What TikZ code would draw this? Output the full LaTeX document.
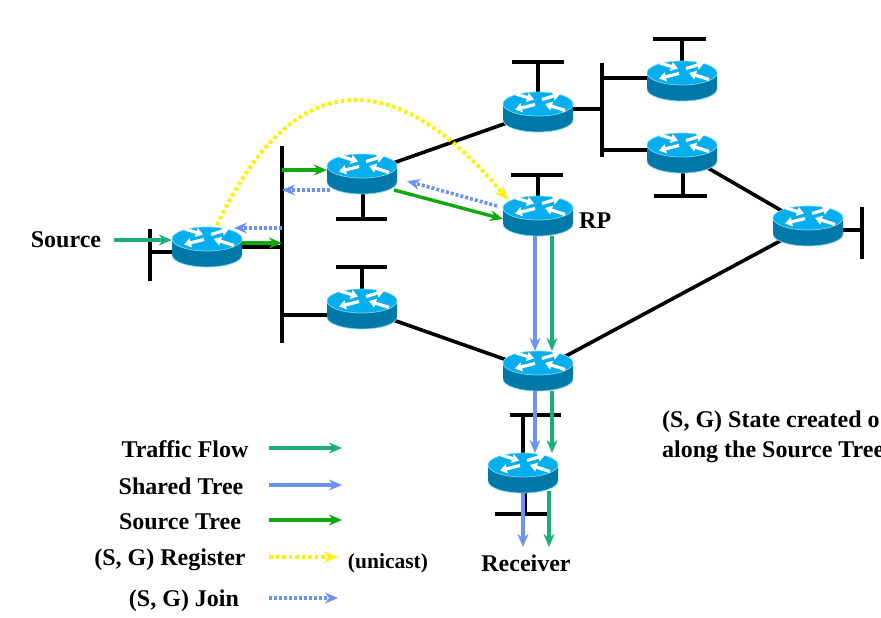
\documentclass[tikz,border=0pt]{standalone}
\usepackage{fontspec}
\setmainfont{Liberation Serif}
\usepackage{xcolor}
\usetikzlibrary{shapes.geometric, arrows.meta, positioning, calc, backgrounds}
\definecolor{routertop}{HTML}{05AEEC}
\definecolor{routerbody}{HTML}{0079A9}
\definecolor{routeredge}{HTML}{7AD4F4}
\definecolor{trafficgreen}{HTML}{1CAE78}
\definecolor{sharedblue}{HTML}{6E92F2}
\definecolor{sourcegreen}{HTML}{0FA80F}
\definecolor{registeryellow}{HTML}{FFF200}
\tikzset{
  routerbase/.style={ellipse, minimum width=70pt, minimum height=40pt, inner sep=0pt},
  routerskin/.style={draw=routeredge, line width=0.7pt},
  routerarrow/.style={-{Triangle[length=7pt,width=9pt]}, white, line width=3.2pt},
  link/.style={black, line width=3.6pt},
  bar/.style={black, line width=4pt},
  traffic/.style={-{Stealth[length=13pt,width=11pt]}, trafficgreen, line width=3.4pt},
  shared/.style={-{Stealth[length=13pt,width=11pt]}, sharedblue, line width=3.8pt},
  sourcetree/.style={-{Stealth[length=13pt,width=11pt]}, sourcegreen, line width=3.4pt},
  register/.style={-{Stealth[length=14pt,width=11pt]}, registeryellow, line width=4pt, dash pattern=on 3.5pt off 3pt},
  joinflow/.style={-{Stealth[length=13pt,width=11pt]}, sharedblue, line width=3.6pt, dash pattern=on 3pt off 2pt},
  tag/.style={font=\fontsize{24}{28}\selectfont\bfseries, inner sep=0pt},
}
\newcommand{\router}[3]{
  \node[routerbase] (#1) at (#2,#3) {};
  \begin{scope}[shift={(#2,#3)}]
    \fill[routerbody] (-35pt,-8) -- (-35pt,8) arc[start angle=180, end angle=360, x radius=35pt, y radius=12pt] -- (35pt,-8) -- cycle;
    \draw[routerskin] (-35pt,8) arc[start angle=180, end angle=360, x radius=35pt, y radius=12pt];
    \filldraw[routerskin, fill=routertop] (0,-8) ellipse [x radius=35pt, y radius=12pt];
    \draw[routerarrow] (-22,-18) -- (-4,-12.5);
    \draw[routerarrow] (4,-12.5) -- (22,-18);
    \draw[routerarrow] (-3,-7.5) -- (-23,-2.5);
    \draw[routerarrow] (27,-1.5) -- (7,-8);
  \end{scope}
}
\begin{document}
\begin{tikzpicture}[x=1pt,y=-1pt]
\useasboundingbox (0,0) rectangle (881,618);
\clip (0,0) rectangle (881,618);

% Routers
\foreach \name/\x/\y in {rSource/207/247, rUpper/362/174, rLower/362/309, rRP/538/216, rTop/538/112,
    rBranchA/682/81, rBranchB/682/153, rRight/808/226, rMiddle/538/371, rReceiver/523/473} {
  \router{\name}{\x}{\y}
}

% Segment ends
\coordinate (barA1) at (282,146);
\coordinate (barA2) at (282,343);
\coordinate (barB1) at (602,63);
\coordinate (barB2) at (602,157);

% Links and stubs, behind the routers
\begin{scope}[on background layer]
\draw[bar] (barA1) -- (barA2);
\draw[bar] (barB1) -- (barB2);
\draw[link] (rSource.east) -- (rSource.east -| barA1);
\draw[link] (rLower.west |- 0,315) -- (barA1 |- 0,315);
\draw[link] (rUpper) -- (rTop);
\draw[link] (rLower) -- (rMiddle);
\draw[link] (rMiddle) -- (rRight);
\draw[link] (rBranchB) -- (rRight);
\draw[link] (rTop |- 0,109) -- (barB1 |- 0,109);
\draw[link] (rBranchA.west |- 0,78) -- (barB1 |- 0,78);
\draw[link] (rBranchB.west |- 0,150) -- (barB1 |- 0,150);
% end caps of the short segments
\foreach \from/\x/\y/\xa/\xb in {rTop/538/62/512/564, rBranchA/682/39/653/706,
    rBranchB/683/196/654/707, rRP/538/175/511/563, rUpper/363/219/336/387,
    rLower/362/267/336/387, rReceiver/523/415/510/561, rReceiver/525/514/495/548} {
  \draw[link] (\from.center -| \x,\y) -- (\x,\y);
  \draw[bar] (\xa,\y) -- (\xb,\y);
}
\foreach \from/\x/\y/\ya/\yb in {rRight/862/230/207/259, rSource/150/252/229/281} {
  \draw[link] (\from.center |- \x,\y) -- (\x,\y);
  \draw[bar] (\x,\ya) -- (\x,\yb);
}
\end{scope}

% Traffic along the routers
\node[tag] (nSource) at (66,240) {Source};
\node[tag, right] (nRP) at (579,221) {RP};
\node[tag] (nReceiver) at (526,563) {Receiver};
\coordinate (sourceOut) at (114,240);
\coordinate (receiverA) at (523,547);
\coordinate (receiverB) at (549,547);
\draw[traffic] (sourceOut) -- (rSource.west |- sourceOut);
\draw[sourcetree] (rSource.east |- 0,243) -- (barA1 |- 0,243);
\draw[joinflow] (barA1 |- 0,228) -- (234,228);
\draw[sourcetree] (barA1 |- 0,170) -- (rUpper.west |- 0,170);
\draw[joinflow] (330,190) -- (barA1 |- 0,190);
\draw[sourcetree] (394,190) -- (503,219);
\draw[joinflow] (497,206) -- (407,181);
\draw[register] (217,225) .. controls (293,64) and (395,64) .. (508,200);
\draw[shared] (535,236) -- (535,351);
\draw[traffic] (552,236) -- (552,351);
\draw[shared] (535,391) -- (535,453);
\draw[traffic] (552,391) -- (552,453);
\draw[shared] (523,493) -- (receiverA);
\draw[traffic] (549,491) -- (receiverB);

% Legend
\node[tag] (nTraffic) at (185,449) {Traffic Flow};
\node[tag] (nShared) at (181,486) {Shared Tree};
\node[tag] (nSourceTree) at (180,522) {Source Tree};
\node[tag] (nRegister) at (170,560) {(S, G) Register};
\node[tag] (nJoin) at (184,601) {(S, G) Join};
\node[tag, font=\fontsize{21.5}{25}\selectfont\bfseries] (nUnicast) at (388,563) {(unicast)};
\coordinate (keyTraffic) at (342,448);
\coordinate (keyShared) at (342,485);
\coordinate (keySource) at (342,520);
\coordinate (keyRegister) at (338,557);
\coordinate (keyJoin) at (338,598);
\draw[traffic] (269,448) -- (keyTraffic);
\draw[shared] (269,485) -- (keyShared);
\draw[sourcetree] (269,520) -- (keySource);
\draw[register] (269,557) -- (keyRegister);
\draw[joinflow] (269,598) -- (keyJoin);

% Note, runs off the page
\node[tag, right] (nState) at (662,422) {(S, G) State created o};
\node[tag, right] (nAlong) at (662,452) {along the Source Tree};
\end{tikzpicture}
\end{document}
